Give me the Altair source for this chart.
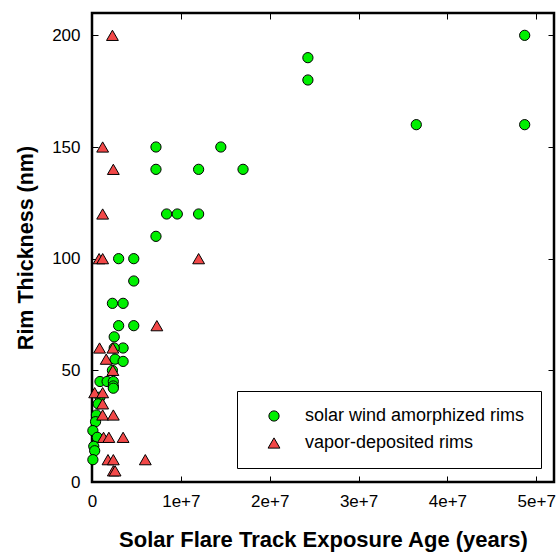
import altair as alt
import pandas as pd

# solar wind amorphized rims (green circles)
sw_age = [4.87e7, 4.87e7, 3.65e7, 2.43e7, 2.43e7,
          7.2e6, 1.45e7, 7.2e6, 1.2e7, 1.7e7,
          8.4e6, 9.6e6, 1.2e7, 7.2e6,
          3.0e6, 4.7e6, 4.7e6, 2.3e6, 3.5e6,
          3.0e6, 4.7e6, 2.5e6, 3.5e6, 2.5e6,
          2.6e6, 3.5e6, 2.3e6,
          0.9e6, 1.7e6, 2.4e6, 2.4e6, 2.4e6,
          0.9e6, 0.7e6, 0.5e6, 0.4e6, 0.1e6,
          0.6e6, 0.2e6, 0.3e6, 0.1e6]
sw_thk = [200, 160, 160, 190, 180,
          150, 150, 140, 140, 140,
          120, 120, 120, 110,
          100, 100, 90, 80, 80,
          70, 70, 65, 60, 60,
          55, 54, 50,
          45, 45, 45, 43, 42,
          38, 35, 30, 27, 23,
          20, 16, 14, 10]

# vapor-deposited rims (red triangles)
vd_age = [2.3e6, 1.2e6, 2.4e6, 1.2e6,
          0.8e6, 1.2e6, 1.2e7, 7.3e6,
          0.85e6, 2.35e6, 1.6e6, 2.35e6,
          0.3e6, 1.2e6, 1.2e6, 1.2e6, 2.4e6,
          1.3e6, 1.9e6, 3.5e6,
          1.8e6, 2.4e6, 6.0e6, 2.4e6, 2.6e6]
vd_thk = [200, 150, 140, 120,
          100, 100, 100, 70,
          60, 60, 55, 50,
          40, 40, 35, 30, 30,
          20, 20, 20,
          10, 10, 10, 5, 5]

series = ["solar wind amorphized rims", "vapor-deposited rims"]
x_ticks = [0, 1e7, 2e7, 3e7, 4e7, 5e7]
y_ticks = [0, 50, 100, 150, 200]

df = pd.DataFrame({
    "age": sw_age + vd_age,
    "thk": sw_thk + vd_thk,
    "type": [series[0]] * len(sw_age) + [series[1]] * len(vd_age),
    "order": list(range(len(sw_age) + len(vd_age))),
})

W, H = 462, 469
FONT = "Liberation Sans"

xs = alt.Scale(domain=[0, 5.2e7], nice=False, zero=False)
ys = alt.Scale(domain=[0, 210], nice=False, zero=False)

base = alt.Chart(df)

pts = base.mark_point(filled=True, stroke="black", strokeWidth=1, opacity=1).encode(
    x=alt.X("age:Q", scale=xs, axis=alt.Axis(
        values=x_ticks, ticks=False, domain=False, grid=False, labelFlush=False,
        labelExpr="datum.value == 0 ? '0' : format(datum.value, '.0e')",
        labelFontSize=17, labelFont=FONT, labelColor="black", labelPadding=11,
        title="Solar Flare Track Exposure Age (years)",
        titleFont=FONT, titleFontSize=22, titleFontWeight="bold", titleColor="black",
        titlePadding=20)),
    y=alt.Y("thk:Q", scale=ys, axis=alt.Axis(
        values=y_ticks, ticks=False, domain=False, grid=False, labelFlush=False,
        labelFontSize=17, labelFont=FONT, labelColor="black", labelPadding=12,
        title="Rim Thickness (nm)",
        titleFont=FONT, titleFontSize=21.5, titleFontWeight="bold", titleColor="black",
        titlePadding=14)),
    color=alt.Color("type:N", scale=alt.Scale(domain=series, range=["#00f000", "#f24848"]),
                    legend=alt.Legend(title=None)),
    shape=alt.Shape("type:N", scale=alt.Scale(domain=series, range=["circle", "triangle-up"]),
                    legend=alt.Legend(title=None)),
    size=alt.Size("type:N", scale=alt.Scale(domain=series, range=[105, 140]), legend=None),
    order=alt.Order("order:Q"),
)

tick_style = dict(labels=False, domain=False, grid=False, ticks=True, tickSize=6,
                  tickColor="black", tickWidth=1, title=None)

ticks_a = base.mark_point(opacity=0).encode(
    x=alt.X("age:Q", scale=xs, axis=alt.Axis(values=x_ticks, orient="top", offset=-H, **tick_style)),
    y=alt.Y("thk:Q", scale=ys, axis=alt.Axis(values=y_ticks, orient="right", offset=-W, **tick_style)),
)
ticks_b = base.mark_point(opacity=0).encode(
    x=alt.X("age:Q", scale=xs, axis=alt.Axis(values=x_ticks, orient="bottom", offset=-H, **tick_style)),
    y=alt.Y("thk:Q", scale=ys, axis=alt.Axis(values=y_ticks, orient="left", offset=-W, **tick_style)),
)

chart = alt.layer(pts, ticks_a, ticks_b).resolve_axis(
    x="independent", y="independent"
).properties(
    width=W, height=H,
    autosize=alt.AutoSizeParams(type="none"),
    padding={"left": 92, "top": 13, "right": 3, "bottom": 74},
).configure_view(
    stroke="black", strokeWidth=2.5
).configure_legend(
    orient="none", legendX=145, legendY=378,
    strokeColor="black", fillColor="white", padding=16,
    symbolOffset=12, labelOffset=22, rowPadding=9, labelLimit=400,
    labelFont=FONT, labelFontSize=18, labelColor="black",
    symbolStrokeColor="black", symbolStrokeWidth=1, symbolSize=100,
    cornerRadius=0,
)

chart.save("out.html", embed_options={"renderer": "svg", "actions": False})
